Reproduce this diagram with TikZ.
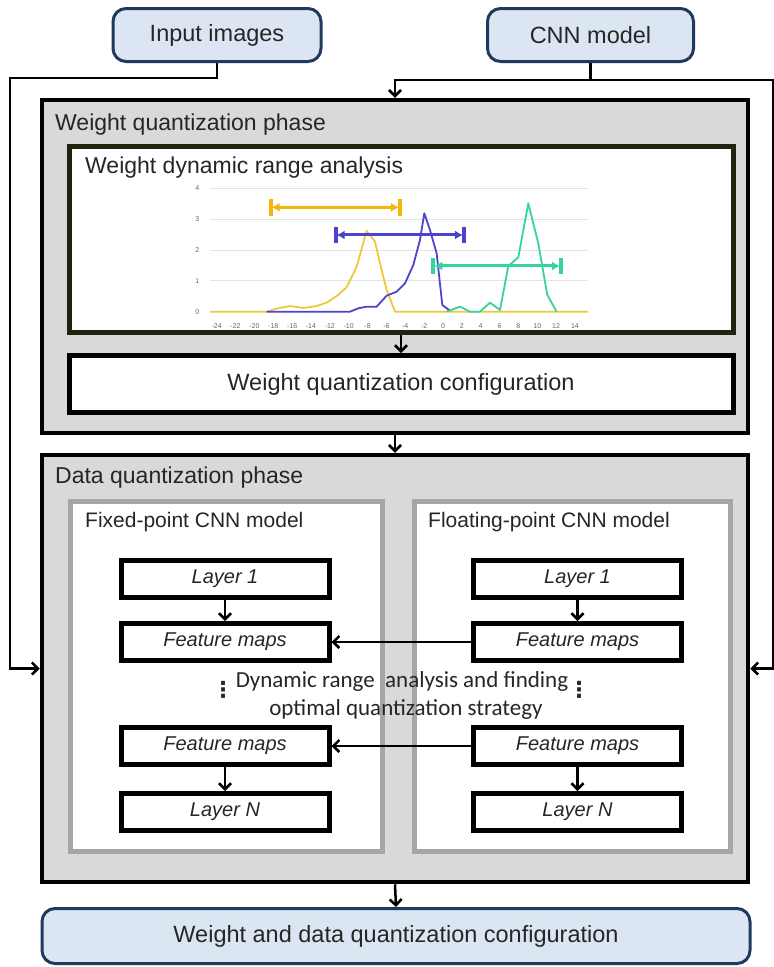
\documentclass[tikz,border=0pt]{standalone}
\usepackage{fontspec}
\setmainfont{Liberation Sans}
\newfontfamily\calib{Carlito}
\newfontfamily\dejavu{DejaVu Sans}
\usetikzlibrary{arrows.meta}
\definecolor{phasegray}{HTML}{D9D9D9}
\definecolor{boxblue}{HTML}{DCE6F2}
\definecolor{navy}{HTML}{1F3A5F}
\definecolor{modelgray}{HTML}{A6A6A6}
\definecolor{cyel}{HTML}{EDC93A}
\definecolor{corange}{HTML}{F5B50A}
\definecolor{cblue}{HTML}{4B44CC}
\definecolor{cteal}{HTML}{36D39C}
\definecolor{labgray}{HTML}{666666}
\definecolor{gridgray}{HTML}{E3E3E3}
\definecolor{darkolive}{HTML}{22220E}
\begin{document}
\begin{tikzpicture}[x=1pt,y=-1pt,
 rbox/.style={draw=navy,line width=3pt,fill=boxblue,rounded corners=13pt,inner sep=0pt,font=\fontsize{23.5}{28}\selectfont,text=black!85},
 phasebox/.style={draw=black,line width=4.5pt,fill=phasegray,inner sep=0pt},
 whitebox/.style={draw=black,line width=5pt,fill=white,inner sep=0pt,font=\fontsize{23.5}{28}\selectfont,text=black!85},
 modelbox/.style={draw=modelgray,line width=5pt,fill=white,inner sep=0pt},
 layerbox/.style={draw=black,line width=5pt,fill=white,inner sep=0pt,minimum width=208pt,minimum height=37pt,font=\fontsize{20}{24}\selectfont\itshape,text=black!85},
 title/.style={anchor=west,inner sep=0pt,font=\fontsize{23}{28}\selectfont,text=black!85},
 subtitle/.style={anchor=west,inner sep=0pt,font=\fontsize{21}{25}\selectfont,text=black!85},
 conn/.style={line width=2.5pt,-{Straight Barb[length=6pt,width=12pt]}},
 ticklab/.style={inner sep=0pt,font=\fontsize{7}{8}\selectfont,text=labgray},
 curve/.style={line width=1.8pt,line join=round},
 ebar/.style={line width=3pt,{Latex[length=8pt,width=9pt]}-{Latex[length=8pt,width=9pt]}},
 ecap/.style={line width=4pt},
 dyntext/.style={inner sep=0pt,font=\calib\fontsize{23}{28}\selectfont,text=black!85},
 vdotsnode/.style={inner sep=0pt,font=\dejavu\bfseries\fontsize{22}{22}\selectfont,text=black!85},
 ]
\useasboundingbox (0,0) rectangle (774,967);
\fill[white] (0,0) rectangle (774,967);

% top boxes
\node[rbox,minimum width=208pt,minimum height=53pt] (inp) at (217,35) {Input images};
\node[rbox,minimum width=206pt,minimum height=53pt] (cnn) at (590.5,35) {CNN model};

% weight phase
\node[phasebox,minimum width=706pt,minimum height=333pt] (wphase) at (395,266.5) {};
\node[title] (wphasel) at (55,125) {Weight quantization phase};
\node[whitebox,draw=darkolive,minimum width=664pt,minimum height=186pt] (wdra) at (401,239) {};
\node[title] (wdral) at (85,168) {Weight dynamic range analysis};
\node[whitebox,minimum width=664pt,minimum height=57pt] (wqc) at (401,384) {Weight quantization configuration};

% chart
\begin{scope}[shift={(190,180)},x=0.3333pt,y=-0.3333pt]
 \foreach \yy in {25,118,210,302} \draw[gridgray,line width=0.8pt] (60,\yy) -- (1195,\yy);
 \foreach \yy/\lab in {25/4,118/3,210/2,302/1,395/0} \node[ticklab] at (22,\yy) {\lab};
 \foreach \i in {0,...,19} {\pgfmathtruncatemacro\vv{-24+2*\i}\node[ticklab] at ({80+56.58*\i},438) {\vv};}
 \draw[curve,cyel] (60,395) -- (230,395) -- (260,386) -- (300,378) -- (340,384) -- (380,378) -- (410,368) -- (440,348) -- (470,322) -- (500,260) -- (530,152) -- (555,185) -- (570,250) -- (590,330) -- (615,395) -- (1195,395);
 \draw[curve,cblue] (230,395) -- (480,395) -- (505,385) -- (530,380) -- (560,380) -- (590,347) -- (620,335) -- (645,310) -- (670,255) -- (690,180) -- (703,100) -- (720,150) -- (740,220) -- (757,375) -- (780,392);
 \draw[curve,cteal] (770,395) -- (810,380) -- (840,395) -- (870,395) -- (900,368) -- (930,390) -- (955,258) -- (985,232) -- (1015,70) -- (1045,190) -- (1072,345) -- (1100,395);
 \draw[ebar,corange] (245,82) -- (627,82);
 \draw[ecap,corange] (242,58) -- (242,108) (630,58) -- (630,108);
 \draw[ebar,cblue] (440,165) -- (819,165);
 \draw[ecap,cblue] (437,142) -- (437,190) (822,142) -- (822,190);
 \draw[ebar,cteal] (733,258) -- (1110,258);
 \draw[ecap,cteal] (730,234) -- (730,282) (1113,234) -- (1113,282);
\end{scope}

% data phase
\node[phasebox,minimum width=706pt,minimum height=427pt] (dphase) at (395,668.5) {};
\node[title] (dphasel) at (55,478) {Data quantization phase};
\node[modelbox,minimum width=312pt,minimum height=350pt] (fixed) at (226,676) {};
\node[modelbox,minimum width=316pt,minimum height=350pt] (float) at (572,676) {};
\node[subtitle] (fixedl) at (85,522) {Fixed-point CNN model};
\node[subtitle] (floatl) at (428,522) {Floating-point CNN model};

\node[layerbox] (l1L) at (225,579) {Layer 1};
\node[layerbox] (f1L) at (225,642) {Feature maps};
\node[layerbox] (f2L) at (225,746) {Feature maps};
\node[layerbox] (lnL) at (225,812) {Layer N};
\node[layerbox] (l1R) at (577.5,579) {Layer 1};
\node[layerbox] (f1R) at (577.5,642) {Feature maps};
\node[layerbox] (f2R) at (577.5,746) {Feature maps};
\node[layerbox] (lnR) at (577.5,812) {Layer N};

\node[dyntext] (dyn1) at (402,681) {Dynamic range\ \ analysis and finding};
\node[dyntext] (dyn2) at (406,709) {optimal quantization strategy};
\node[vdotsnode] (dotsL) at (223,690) {⋮};
\node[vdotsnode] (dotsR) at (579,690) {⋮};

\draw[conn] (l1L) -- (f1L);
\draw[conn] (f2L) -- (lnL);
\draw[conn] (l1R) -- (f1R);
\draw[conn] (f2R) -- (lnR);
\draw[conn] (f1R.west) -- (f1L.east);
\draw[conn] (f2R.west) -- (f2L.east);

% final
\node[rbox,minimum width=708pt,minimum height=55pt] (final) at (396,936) {Weight and data quantization configuration};

% connectors
\coordinate (cl) at (10,78);
\coordinate (cr) at (773,80);
\draw[conn] (inp.south) |- (cl) |- (dphase.west);
\draw[conn] (cnn.south) |- (cr) |- (dphase.east);
\draw[conn] (cnn.south |- cr) -| (wphase.north);
\draw[conn] (wdra.south) -- (wqc.north);
\draw[conn] (wphase.south) -- (dphase.north);
\draw[conn] (dphase.south) -- (final.north);
\end{tikzpicture}
\end{document}
